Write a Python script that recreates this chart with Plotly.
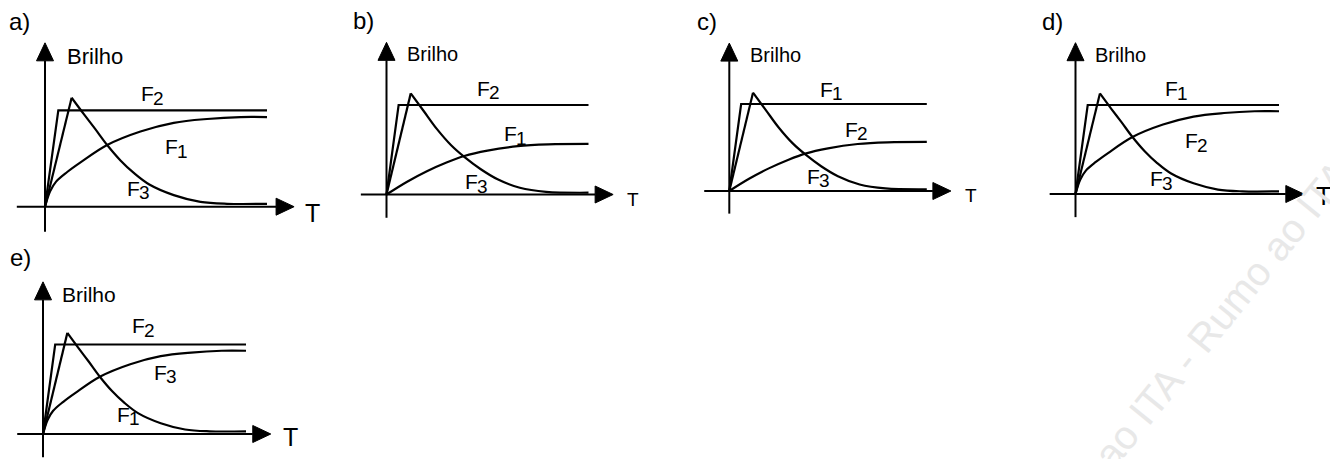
import plotly.graph_objects as go

# page body margin shifts the figure by 8 px; positions below are picture pixels
OFF = 8
W_FIG, H_FIG = 1338 - OFF, 459 - OFF

# ---------------- data ----------------
# time axis T in arbitrary units (curves end at T = 10); brightness relative to step level
STEP_T = [0, 0.6, 10]
STEP_B = [0, 1.0, 1.0]

SAT_HIGH_T = [0, 0.23, 0.5, 1.0, 1.6, 2.8, 4.3, 5.8, 7.3, 8.8, 10]
SAT_HIGH_B = [0, 0.16, 0.26, 0.36, 0.46, 0.64, 0.78, 0.87, 0.91, 0.93, 0.93]

SAT_LOW_T = [0, 1.0, 2.0, 3.0, 3.85, 5.0, 6.5, 8.0, 10]
SAT_LOW_B = [0, 0.14, 0.26, 0.36, 0.43, 0.49, 0.54, 0.56, 0.565]

PEAK_FAST_T = [0, 1.2, 1.75, 2.25, 2.8, 3.4, 4.0, 4.7, 5.8, 7.0, 8.2, 10]
PEAK_FAST_B = [0, 1.13, 0.96, 0.81, 0.64, 0.48, 0.35, 0.23, 0.12, 0.05, 0.03, 0.03]

PEAK_SLOW_T = [0, 1.2, 1.85, 2.5, 3.2, 3.85, 4.65, 5.5, 6.6, 7.9, 10]
PEAK_SLOW_B = [0, 1.13, 0.93, 0.73, 0.55, 0.42, 0.285, 0.17, 0.075, 0.03, 0.02]

PANEL_LETTERS = ["a)", "b)", "c)", "d)", "e)"]
Y_TITLE = "Brilho"
X_TITLE = "T"
# label (name, subscript) of the step, saturating and peak curves in each option
STEP_LABELS = [("F", "2"), ("F", "2"), ("F", "1"), ("F", "1"), ("F", "2")]
SAT_LABELS = [("F", "1"), ("F", "1"), ("F", "2"), ("F", "2"), ("F", "3")]
PEAK_LABELS = [("F", "3"), ("F", "3"), ("F", "3"), ("F", "3"), ("F", "1")]
SAT_VARIANT = ["high", "low", "low", "high", "high"]
PEAK_VARIANT = ["fast", "slow", "slow", "fast", "fast"]
WATERMARK = "Rumo ao ITA - Rumo ao ITA"

# ---------------- layout / geometry (picture pixels) ----------------
GEOM = [
    dict(box=(8, 335, 8, 232), origin=(45, 206.7), sx=22.2, sy=96.4, tsize=25, bsize=22),
    dict(box=(340, 675, 8, 232), origin=(386.5, 194.5), sx=20.2, sy=89.5, tsize=19, bsize=20),
    dict(box=(680, 1005, 8, 232), origin=(729.3, 191), sx=19.75, sy=87, tsize=19, bsize=20),
    dict(box=(1010, 1338, 8, 232), origin=(1075.5, 194), sx=20.35, sy=89, tsize=25, bsize=20),
    dict(box=(8, 335, 232, 459), origin=(43, 434), sx=20.3, sy=89.5, tsize=25, bsize=21),
]
# label positions in data units (T, B)
LABEL_POS = [
    dict(letter=(-1.13, 1.92), title=(0.9, 1.56), t=(12.07, -0.065), step=(4.23, 1.17), sat=(5.32, 0.62), peak=(3.6, 0.19)),
    dict(letter=(-1.16, 1.94), title=(0.92, 1.57), t=(12.2, -0.06), step=(4.38, 1.19), sat=(5.72, 0.68), peak=(3.79, 0.14)),
    dict(letter=(-1.13, 1.95), title=(0.95, 1.56), t=(12.24, -0.05), step=(4.49, 1.17), sat=(5.75, 0.71), peak=(3.83, 0.17)),
    dict(letter=(-1.11, 1.94), title=(0.86, 1.56), t=(12.21, -0.02), step=(4.3, 1.18), sat=(5.28, 0.60), peak=(3.56, 0.17)),
    dict(letter=(-1.13, 1.97), title=(0.84, 1.56), t=(12.2, -0.03), step=(4.29, 1.21), sat=(5.37, 0.69), peak=(3.55, 0.22)),
]
X_AXIS_FROM, X_AXIS_TO = -1.27, 11.22
Y_AXIS_FROM, Y_AXIS_TO = -0.26, 1.70
HEAD_LEN, HEAD_HALF = 18, 8.5  # px
LW = 2.2
FONT = "Liberation Sans, Arial, sans-serif"
F_SIZE, SUB_SIZE = 21, 19
SUB_DX, SUB_DY = 12, -4.5  # px offset of the subscript digit

fig = go.Figure()
annotations = []


def line_trace(x, y, xa, ya, shape="linear", width=LW):
    return go.Scatter(x=x, y=y, mode="lines", xaxis=xa, yaxis=ya,
                      line=dict(color="black", width=width, shape=shape),
                      cliponaxis=False, showlegend=False, hoverinfo="skip")


def head_trace(xs, ys, xa, ya):
    return go.Scatter(x=xs, y=ys, mode="lines", fill="toself", fillcolor="black",
                      line=dict(color="black", width=1), xaxis=xa, yaxis=ya,
                      cliponaxis=False, showlegend=False, hoverinfo="skip")


layout_axes = {}
for i, g in enumerate(GEOM):
    n = "" if i == 0 else str(i + 1)
    xa, ya = "x" + n, "y" + n
    bx0, bx1, by0, by1 = g["box"]
    ox, oy = g["origin"]
    sx, sy = g["sx"], g["sy"]
    layout_axes["xaxis" + n] = dict(domain=[(bx0 - OFF) / W_FIG, (bx1 - OFF) / W_FIG],
                                    range=[(bx0 - ox) / sx, (bx1 - ox) / sx],
                                    visible=False, fixedrange=True, anchor=ya)
    layout_axes["yaxis" + n] = dict(domain=[1 - (by1 - OFF) / H_FIG, 1 - (by0 - OFF) / H_FIG],
                                    range=[(oy - by1) / sy, (oy - by0) / sy],
                                    visible=False, fixedrange=True, anchor=xa)

    hl_x, hw_y = HEAD_LEN / sx, HEAD_HALF / sy
    hl_y, hw_x = HEAD_LEN / sy, HEAD_HALF / sx
    # axes with arrow heads
    fig.add_trace(line_trace([X_AXIS_FROM, X_AXIS_TO - hl_x], [0, 0], xa, ya, width=2))
    fig.add_trace(line_trace([0, 0], [Y_AXIS_FROM, Y_AXIS_TO - hl_y], xa, ya, width=2))
    fig.add_trace(head_trace([X_AXIS_TO, X_AXIS_TO - hl_x, X_AXIS_TO - hl_x, X_AXIS_TO],
                             [0, hw_y, -hw_y, 0], xa, ya))
    fig.add_trace(head_trace([0, -hw_x, hw_x, 0],
                             [Y_AXIS_TO, Y_AXIS_TO - hl_y, Y_AXIS_TO - hl_y, Y_AXIS_TO], xa, ya))

    # curves
    fig.add_trace(line_trace(STEP_T, STEP_B, xa, ya))
    st, sb = (SAT_HIGH_T, SAT_HIGH_B) if SAT_VARIANT[i] == "high" else (SAT_LOW_T, SAT_LOW_B)
    fig.add_trace(line_trace(st, sb, xa, ya, shape="spline"))
    pt, pb = (PEAK_FAST_T, PEAK_FAST_B) if PEAK_VARIANT[i] == "fast" else (PEAK_SLOW_T, PEAK_SLOW_B)
    fig.add_trace(line_trace(pt[:2], pb[:2], xa, ya))
    fig.add_trace(line_trace(pt[1:], pb[1:], xa, ya, shape="spline"))

    lp = LABEL_POS[i]

    def ann(text, pos, size, xanchor="left", xshift=0, yshift=0):
        annotations.append(dict(text=text, x=pos[0], y=pos[1], xref=xa, yref=ya, showarrow=False,
                                xanchor=xanchor, yanchor="middle", xshift=xshift, yshift=yshift,
                                font=dict(family=FONT, size=size, color="black")))

    def flabel(lab, pos):
        ann(lab[0], pos, F_SIZE)
        ann(lab[1], pos, SUB_SIZE, xshift=SUB_DX, yshift=SUB_DY)

    ann(PANEL_LETTERS[i], lp["letter"], 24, "center")
    ann(Y_TITLE, lp["title"], g["bsize"])
    ann(X_TITLE, lp["t"], g["tsize"], "center")
    flabel(STEP_LABELS[i], lp["step"])
    flabel(SAT_LABELS[i], lp["sat"])
    flabel(PEAK_LABELS[i], lp["peak"])

annotations.append(dict(text=WATERMARK, x=(1185 - OFF) / W_FIG, y=1 - (360 - OFF) / H_FIG,
                        xref="paper", yref="paper",
                        showarrow=False, textangle=-51, xanchor="center", yanchor="middle",
                        font=dict(family=FONT, size=40, color="#e8e8e8")))

fig.update_layout(width=W_FIG, height=H_FIG, margin=dict(l=0, r=0, t=0, b=0),
                  paper_bgcolor="white", plot_bgcolor="white",
                  annotations=annotations, **layout_axes)

fig.write_html("out.html", config={"displayModeBar": False})
